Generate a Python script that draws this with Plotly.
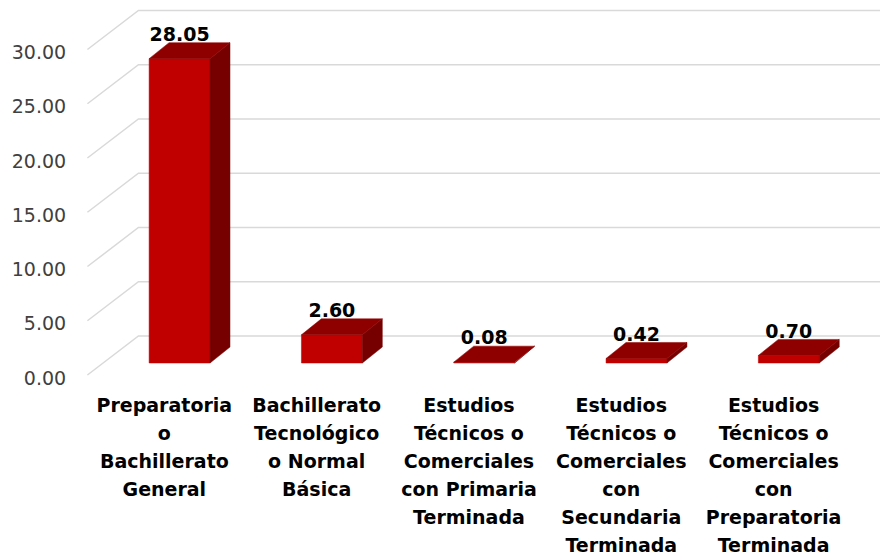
import plotly.graph_objects as go

# ---------------- data ----------------
categories = [
    "Preparatoria\no\nBachillerato\nGeneral",
    "Bachillerato\nTecnológico\no Normal\nBásica",
    "Estudios\nTécnicos o\nComerciales\ncon Primaria\nTerminada",
    "Estudios\nTécnicos o\nComerciales\ncon\nSecundaria\nTerminada",
    "Estudios\nTécnicos o\nComerciales\ncon\nPreparatoria\nTerminada",
]
values = [28.05, 2.60, 0.08, 0.42, 0.70]
value_labels = ["28.05", "2.60", "0.08", "0.42", "0.70"]
y_ticks = [0, 5, 10, 15, 20, 25, 30]
y_tick_labels = ["0.00", "5.00", "10.00", "15.00", "20.00", "25.00", "30.00"]

# ---------------- layout constants (data units) ----------------
# page has an 8px body margin, so the figure is 8px smaller than the window
W, H = 885, 550
X_RANGE = [-1.1265, 4.684]
Y_RANGE = [-17.97, 32.72]
HALF_W = 0.2            # half bar width (category units)
BAR_DX, BAR_DY = 0.131, 1.475   # bar depth offset
FRONT_DX, FRONT_DY = -0.105, -1.106  # floor front plane relative to bar front
BACK_DX, BACK_DY = 0.23, 2.49        # back wall relative to bar front
X_LEFT = -0.5
X_RIGHT = 4.599
FONT = "DejaVu Sans"
FRONT_C = "#C00000"
TOP_C = "#8E0000"
SIDE_C = "#760000"
GRID_C = "#D9D9D9"

fig = go.Figure()

# gridlines (slanted along the left floor/wall, then horizontal on back wall)
for t in y_ticks:
    fig.add_trace(go.Scatter(
        x=[X_LEFT + FRONT_DX, X_LEFT + BACK_DX, X_RIGHT],
        y=[t + FRONT_DY, t + BACK_DY, t + BACK_DY],
        mode="lines", line=dict(color=GRID_C, width=1.5),
        hoverinfo="skip", showlegend=False))

# y tick labels
fig.add_trace(go.Scatter(
    x=[X_LEFT + FRONT_DX - 0.14] * len(y_ticks),
    y=[t + FRONT_DY - 0.45 for t in y_ticks],
    mode="text", text=y_tick_labels, textposition="middle left",
    textfont=dict(family=FONT, size=19, color="#404040"),
    hoverinfo="skip", showlegend=False))

# 3D-looking bars
for i, v in enumerate(values):
    x0, x1 = i - HALF_W, i + HALF_W
    # front face
    fig.add_trace(go.Scatter(
        x=[x0, x1, x1, x0, x0], y=[0, 0, v, v, 0],
        mode="lines", fill="toself", fillcolor=FRONT_C,
        line=dict(color=FRONT_C, width=0.5),
        hoverinfo="skip", showlegend=False))
    # side face
    fig.add_trace(go.Scatter(
        x=[x1, x1 + BAR_DX, x1 + BAR_DX, x1, x1],
        y=[0, BAR_DY, v + BAR_DY, v, 0],
        mode="lines", fill="toself", fillcolor=SIDE_C,
        line=dict(color=SIDE_C, width=0.5),
        hoverinfo="skip", showlegend=False))
    # top face
    fig.add_trace(go.Scatter(
        x=[x0, x1, x1 + BAR_DX, x0 + BAR_DX, x0],
        y=[v, v, v + BAR_DY, v + BAR_DY, v],
        mode="lines", fill="toself", fillcolor=TOP_C,
        line=dict(color=TOP_C, width=0.5),
        hoverinfo="skip", showlegend=False))

# value labels
fig.add_trace(go.Scatter(
    x=list(range(len(values))),
    y=[v + BAR_DY - 0.28 for v in values],
    mode="text", text=value_labels, textposition="top center",
    textfont=dict(family=FONT, size=19, color="#000000"),
    texttemplate="<b>%{text}</b>",
    hoverinfo="skip", showlegend=False))

# category labels (one line at a time for Excel-like line spacing)
LINE0 = -4.05
LINE_STEP = 2.58
max_lines = max(len(c.split("\n")) for c in categories)
for k in range(max_lines):
    xs, ys, ts = [], [], []
    for i, c in enumerate(categories):
        lines = c.split("\n")
        if k < len(lines):
            xs.append(i - 0.1)
            ys.append(LINE0 - LINE_STEP * k)
            ts.append("<b>" + lines[k] + "</b>")
    fig.add_trace(go.Scatter(
        x=xs, y=ys, mode="text", text=ts, textposition="middle center",
        textfont=dict(family=FONT, size=19, color="#000000"),
        hoverinfo="skip", showlegend=False))

fig.update_layout(
    width=W, height=H,
    margin=dict(l=0, r=0, t=0, b=0),
    paper_bgcolor="white", plot_bgcolor="white",
    xaxis=dict(range=X_RANGE, visible=False, fixedrange=True),
    yaxis=dict(range=Y_RANGE, visible=False, fixedrange=True),
    showlegend=False,
)

fig.write_html("out.html")
